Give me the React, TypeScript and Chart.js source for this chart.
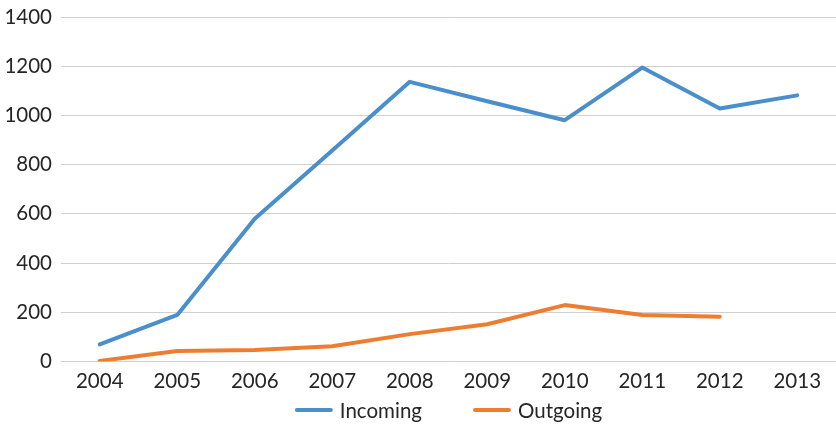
import React, { useEffect, useRef } from "react";
import { Chart, registerables } from "chart.js";

Chart.register(...registerables);

const years = ["2004", "2005", "2006", "2007", "2008", "2009", "2010", "2011", "2012", "2013"];
const incoming = [69, 189, 580, 858, 1137, 1058, 981, 1195, 1029, 1082];
const outgoing = [2, 42, 46, 62, 111, 151, 229, 189, 182, null];

const BLUE = "#4A8FCB";
const ORANGE = "#ED7D31";
const FONT = "Lato";
const FSIZE = 20.5;
const TEXT = "#262626";

const legendPlugin = {
  id: "customLegend",
  afterDraw(chart: any) {
    const ctx = chart.ctx;
    const area = chart.chartArea;
    const y = 410;
    const boxW = 38;
    const textGap = 7;
    const itemGap = 51;
    ctx.save();
    ctx.font = `${FSIZE}px ${FONT}`;
    ctx.textBaseline = "middle";
    const items = chart.data.datasets.map((d: any) => ({
      label: d.label,
      color: d.borderColor,
      w: boxW + textGap + ctx.measureText(d.label).width,
    }));
    const total = items.reduce((s: number, it: any) => s + it.w, 0) + itemGap * (items.length - 1);
    let x = (area.left + area.right) / 2 - total / 2;
    for (const it of items) {
      ctx.strokeStyle = it.color;
      ctx.lineWidth = 4;
      ctx.lineCap = "round";
      ctx.beginPath();
      ctx.moveTo(x + 2, y);
      ctx.lineTo(x + boxW - 2, y);
      ctx.stroke();
      ctx.fillStyle = TEXT;
      ctx.textAlign = "left";
      ctx.fillText(it.label, x + boxW + textGap, y + 1);
      x += it.w + itemGap;
    }
    ctx.restore();
  },
};

export default function App() {
  const ref = useRef<HTMLCanvasElement | null>(null);
  useEffect(() => {
    if (!ref.current) return;
    const chart = new Chart(ref.current, {
      type: "line",
      data: {
        labels: years,
        datasets: [
          { label: "Incoming", data: incoming, borderColor: BLUE, backgroundColor: BLUE, borderWidth: 4, pointRadius: 0, tension: 0, borderCapStyle: "round", borderJoinStyle: "round" },
          { label: "Outgoing", data: outgoing, borderColor: ORANGE, backgroundColor: ORANGE, borderWidth: 4, pointRadius: 0, tension: 0, borderCapStyle: "round", borderJoinStyle: "round" },
        ],
      },
      plugins: [legendPlugin],
      options: {
        animation: false,
        responsive: false,
        layout: { padding: { top: 0, right: 0, left: 0, bottom: 23 } },
        scales: {
          x: {
            offset: true,
            grid: { display: false, drawTicks: false },
            border: { display: false },
            ticks: { color: TEXT, font: { family: FONT, size: FSIZE }, padding: 8, maxRotation: 0 },
          },
          y: {
            min: 0,
            max: 1400,
            afterFit: (s: any) => { s.width = 61; },
            grid: { color: "#D0D0D0", lineWidth: 1, drawTicks: false },
            border: { display: false },
            ticks: { stepSize: 200, color: TEXT, font: { family: FONT, size: FSIZE, lineHeight: 0.8 }, padding: 9, callback: (v: any) => String(v) },
          },
        },
        plugins: {
          tooltip: { enabled: false },
          legend: { display: false },
        },
      },
    });
    return () => chart.destroy();
  }, []);
  return (
    <div style={{ position: "fixed", left: 0, top: 0, width: 836, height: 425, background: "#fff" }}>
      <canvas ref={ref} width={836} height={425} style={{ display: "block" }} />
    </div>
  );
}
